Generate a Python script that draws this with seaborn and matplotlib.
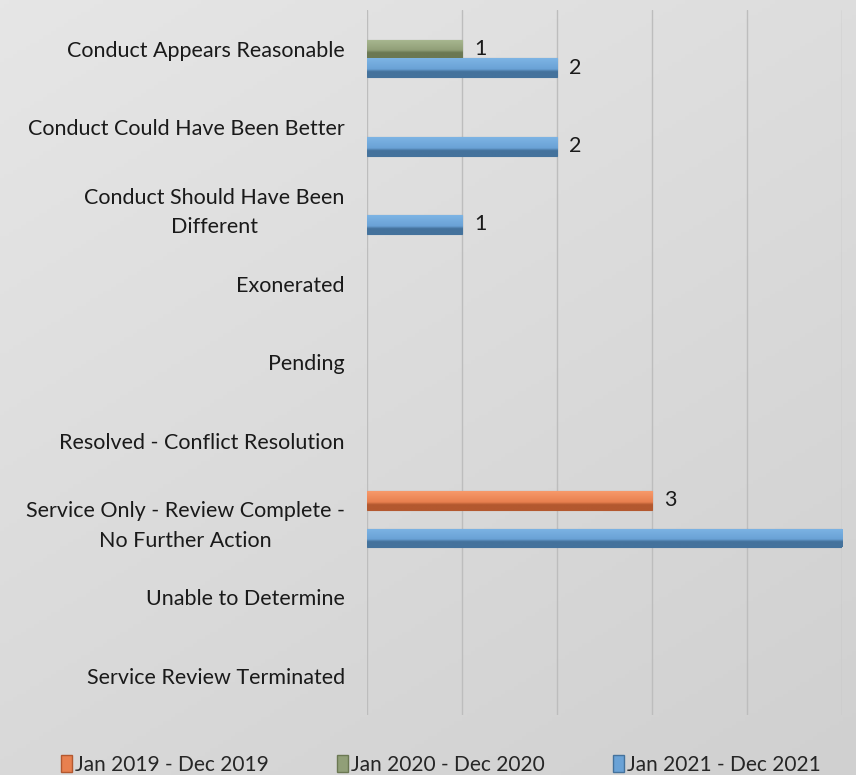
import numpy as np
import pandas as pd
import matplotlib
matplotlib.use("Agg")
import matplotlib.pyplot as plt
import matplotlib.colors as mcolors
from matplotlib.patches import Patch
import seaborn as sns

# data
categories = [
    "Conduct Appears Reasonable",
    "Conduct Could Have Been Better",
    "Conduct Should Have Been\nDifferent",
    "Exonerated",
    "Pending",
    "Resolved - Conflict Resolution",
    "Service Only - Review Complete -\nNo Further Action",
    "Unable to Determine",
    "Service Review Terminated",
]
periods = ["Jan 2019 - Dec 2019", "Jan 2020 - Dec 2020", "Jan 2021 - Dec 2021"]
counts_2019 = [0, 0, 0, 0, 0, 0, 3, 0, 0]
counts_2020 = [1, 0, 0, 0, 0, 0, 0, 0, 0]
counts_2021 = [2, 2, 1, 0, 0, 0, 5, 0, 0]

# (light, mid, dark) shades per series for the bevelled look
shades = {
    periods[0]: ("#f7996a", "#e8804f", "#b3582f"),
    periods[1]: ("#a9b891", "#919f78", "#6b7853"),
    periods[2]: ("#7db4e4", "#6aa2d6", "#44729c"),
}

df = pd.DataFrame({
    "category": categories * 3,
    "period": [p for p in periods for _ in categories],
    "count": counts_2019 + counts_2020 + counts_2021,
})

sns.set_style("white")
plt.rcParams["font.family"] = ["Lato", "DejaVu Sans"]

fig = plt.figure(figsize=(8.56, 7.75), dpi=100)

# light grey gradient background
bg = fig.add_axes([0, 0, 1, 1], zorder=-10)
yy, xx = np.mgrid[0:1:200j, 0:1:200j]
grad = 0.6 * yy + 0.4 * xx
bg_cmap = mcolors.LinearSegmentedColormap.from_list("bg", ["#e6e6e6", "#d0d0d0"])
bg.imshow(grad, cmap=bg_cmap, aspect="auto", extent=(0, 1, 0, 1), origin="upper")
bg.set_axis_off()

ax = fig.add_axes([0.4287, 0.0774, 0.555, 0.910])
ax.patch.set_alpha(0)

sns.barplot(
    data=df, y="category", x="count", hue="period",
    order=categories, hue_order=periods,
    palette=[shades[p][1] for p in periods],
    orient="h", width=0.72, legend=False, ax=ax,
    edgecolor="none", linewidth=0,
)

xmax = 5
ax.set_xlim(0, xmax)
ylim = ax.get_ylim()

for cont, p in zip(ax.containers, periods):
    light, mid, dark = shades[p]
    cmap = mcolors.LinearSegmentedColormap.from_list(
        p, [(0, light), (0.58, mid), (0.72, dark), (1, dark)])
    for bar in cont:
        w = bar.get_width()
        if w <= 0:
            bar.set_visible(False)
            continue
        y0 = bar.get_y()
        h = bar.get_height()
        bar.set_edgecolor(dark)
        bar.set_linewidth(0.8)
        im = ax.imshow(np.linspace(0, 1, 50).reshape(-1, 1), cmap=cmap,
                       aspect="auto", extent=(0, w, y0 + h, y0),
                       origin="upper", zorder=2.5)
        im.set_clip_path(bar)
        if w < xmax:
            ax.annotate(f"{int(w)}", (w, y0 + h / 2), xytext=(9, 0),
                        textcoords="offset points", va="center", ha="left",
                        fontsize=15.5, color="#1a1a1a")

ax.set_xlim(0, xmax)
ax.set_ylim(ylim)
ax.set_xticks(range(0, xmax + 1))
ax.set_xticklabels([])
ax.grid(axis="x", color="#bdbdbd", linewidth=1)
ax.grid(axis="y", visible=False)
ax.set_axisbelow(True)
for s in ax.spines.values():
    s.set_visible(False)
ax.tick_params(axis="both", length=0)
ax.tick_params(axis="y", pad=16, labelsize=15.5, labelcolor="#1a1a1a")
for lbl in ax.get_yticklabels():
    lbl.set_multialignment("center")
    lbl.set_linespacing(1.6)
ax.set_xlabel("")
ax.set_ylabel("")

handles = [Patch(facecolor=shades[p][1], edgecolor=shades[p][2]) for p in periods]
fig.legend(handles, periods, loc="lower center", bbox_to_anchor=(0.515, -0.024),
           ncol=3, frameon=False, fontsize=15, handlelength=0.5,
           handleheight=0.9, handletextpad=0.15, columnspacing=3.3)

fig.savefig("out.png", dpi=100)
